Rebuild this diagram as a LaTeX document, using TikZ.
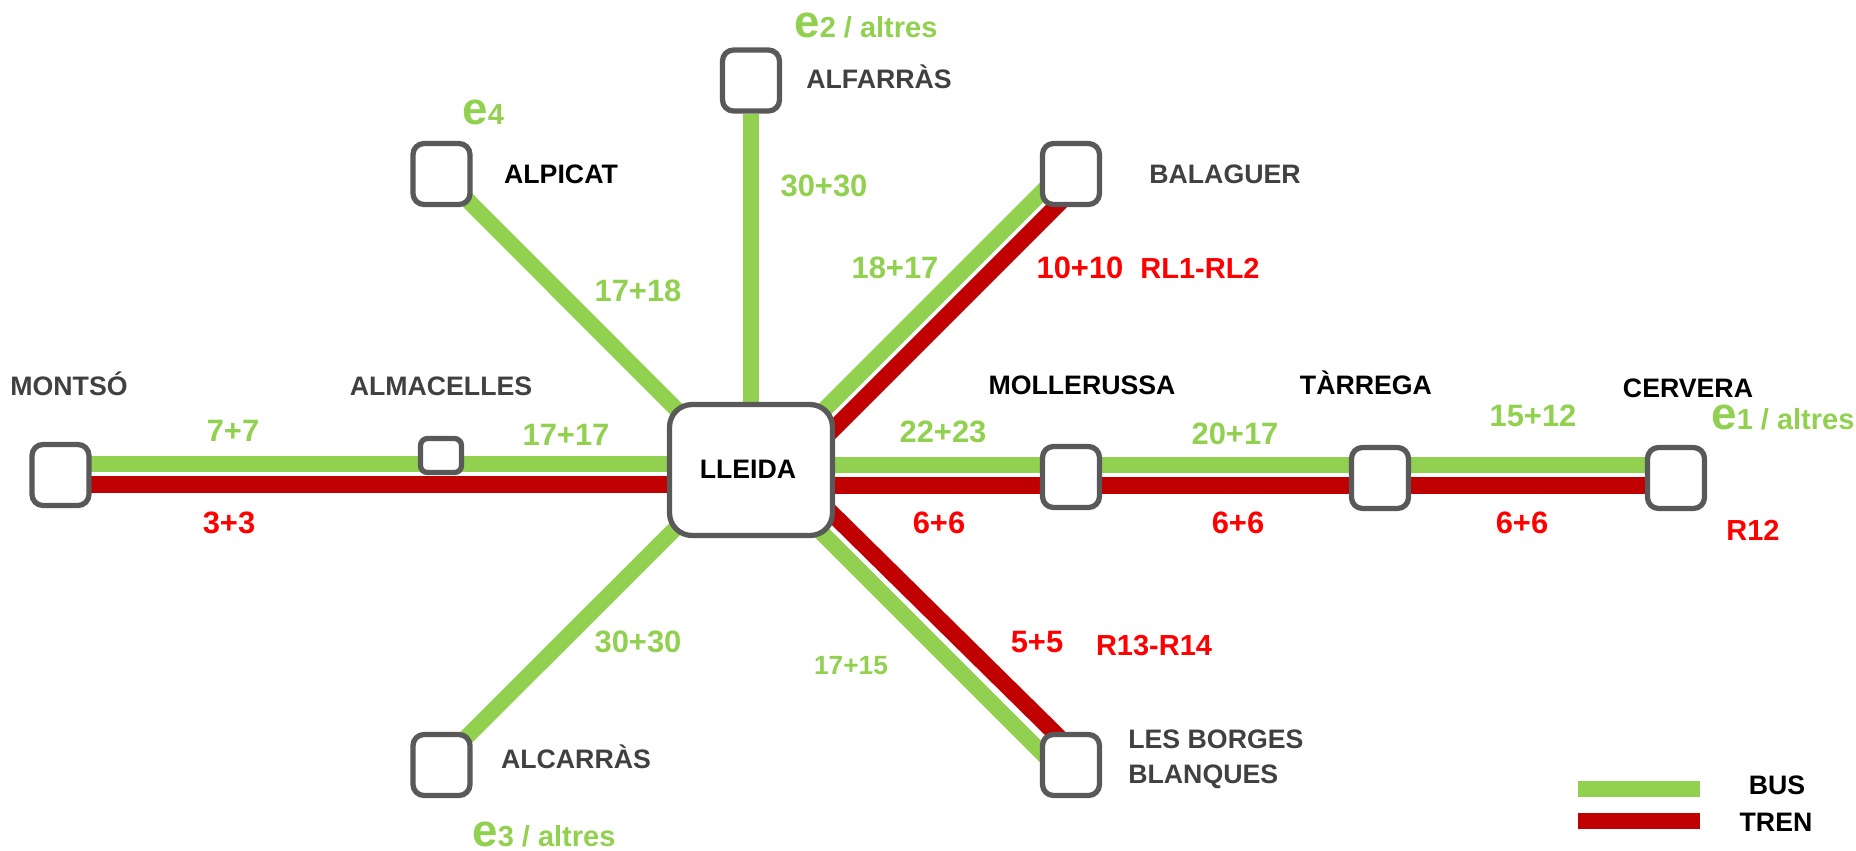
\documentclass[tikz,border=0pt]{standalone}
\usepackage{fontspec}
\setmainfont{Liberation Sans}
\usetikzlibrary{calc,backgrounds}
\definecolor{busgreen}{HTML}{92D050}
\definecolor{trenred}{HTML}{C00000}
\definecolor{labelred}{HTML}{FF0000}
\definecolor{boxgrey}{HTML}{595959}
\definecolor{namegrey}{HTML}{404040}
\tikzset{
	stationbox/.style={draw=boxgrey,fill=white,line width=3pt,rounded corners=2.2mm,minimum width=1.14cm,minimum height=1.22cm,inner sep=0pt},
	busline/.style={draw=busgreen,line width=9.1pt},
	trenline/.style={draw=trenred,line width=9.4pt},
	citylabel/.style={anchor=base,inner sep=0pt,font=\fontsize{15.2}{15.2}\selectfont\bfseries},
	buslabel/.style={anchor=base,inner sep=0pt,text=busgreen,font=\fontsize{17.6}{17.6}\selectfont\bfseries},
	trenlabel/.style={anchor=base,inner sep=0pt,text=labelred,font=\fontsize{17.6}{17.6}\selectfont\bfseries},
	linelabel/.style={anchor=base,inner sep=0pt,text=labelred,font=\fontsize{16.5}{16.5}\selectfont\bfseries},
	extralabel/.style={anchor=base west,inner sep=0pt,text=busgreen,font=\fontsize{16.5}{16.5}\selectfont\bfseries}
}
\def\bige{{\fontsize{26}{26}\selectfont e}}

\begin{document}
\begin{tikzpicture}[x=0.02cm,y=-0.02cm]
			%%%%% START %%%%%
			\useasboundingbox (0, 0) rectangle (1856, 850);
			
			\node[stationbox,minimum width=3.26cm,minimum height=2.62cm,rounded corners=4.5mm] (lleida) at (751, 470) {};
			\node[stationbox] (montso) at (60.5, 475) {};
			\node[stationbox,minimum width=0.82cm,minimum height=0.68cm,rounded corners=1.4mm] (almacelles) at (441, 455.5) {};
			\node[stationbox] (alpicat) at (441.5, 174) {};
			\node[stationbox] (alfarras) at (751, 80.5) {};
			\node[stationbox] (balaguer) at (1071, 174) {};
			\node[stationbox] (mollerussa) at (1071, 477) {};
			\node[stationbox] (tarrega) at (1380, 478) {};
			\node[stationbox] (cervera) at (1676, 478) {};
			\node[stationbox] (alcarras) at (441.5, 765) {};
			\node[stationbox] (borges) at (1071, 765) {};
			
			\begin{pgfonlayer}{background}
				\draw[busline] ($(montso)+(0,-11)$) -- ($(lleida)+(0,-6)$);
				\draw[trenline] ($(montso)+(0,9.5)$) -- ($(lleida)+(0,14.5)$);
				\draw[busline] ($(lleida)+(0,-5)$) -- ($(cervera)+(0,-13)$);
				\draw[trenline] ($(lleida)+(0,15.5)$) -- ($(cervera)+(0,7.5)$);
				\draw[busline] (alfarras) -- (lleida);
				\draw[busline] ($(alpicat)+(0,0)$) -- ($(lleida)+(-14,0)$);
				\draw[busline] ($(balaguer)+(-17,6)$) -- ($(lleida)+(13,0)$);
				\draw[trenline] ($(balaguer)+(1.5,16)$) -- ($(lleida)+(31.5,10)$);
				\draw[busline] ($(alcarras)+(-3,0)$) -- ($(lleida)+(-17,0)$);
				\draw[trenline] ($(borges)+(1,-15)$) -- ($(lleida)+(47,10)$);
				\draw[busline] ($(borges)+(-17,0)$) -- ($(lleida)+(8,0)$);
			\end{pgfonlayer}
			
			\node[citylabel] (lleidaname) at (748, 478) {LLEIDA};
			\node[citylabel,text=namegrey] (montsoname) at (69, 395) {MONTSÓ};
			\node[citylabel,text=namegrey] (almacellesname) at (441, 395) {ALMACELLES};
			\node[citylabel] (alpicatname) at (561, 183) {ALPICAT};
			\node[citylabel,text=namegrey] (alfarrasname) at (879, 88) {ALFARRÀS};
			\node[citylabel,text=namegrey] (balaguername) at (1225, 183) {BALAGUER};
			\node[citylabel] (mollerussaname) at (1082, 394) {MOLLERUSSA};
			\node[citylabel] (tarreganame) at (1366, 394) {TÀRREGA};
			\node[citylabel] (cerveraname) at (1688, 397) {CERVERA};
			\node[citylabel,text=namegrey] (alcarrasname) at (576, 768) {ALCARRÀS};
			\node[citylabel,text=namegrey,anchor=base west] (borgesname) at (1128, 748) {LES BORGES};
			\node[citylabel,text=namegrey,anchor=base west] (blanquesname) at (1128, 783) {BLANQUES};
			
			\node[buslabel] (montsobus) at (233, 441) {7+7};
			\node[trenlabel] (montsotren) at (229, 533) {3+3};
			\node[buslabel] (almacellesbus) at (566, 445) {17+17};
			\node[buslabel] (mollerussabus) at (943, 442) {22+23};
			\node[trenlabel] (mollerussatren) at (939, 533) {6+6};
			\node[buslabel] (tarregabus) at (1235, 444) {20+17};
			\node[trenlabel] (tarregatren) at (1238, 533) {6+6};
			\node[buslabel] (cerverabus) at (1533, 426) {15+12};
			\node[trenlabel] (cerveratren) at (1522, 533) {6+6};
			\node[linelabel] (cerveraline) at (1753, 540) {R12};
			\node[buslabel] (balaguerbus) at (895, 278) {18+17};
			\node[trenlabel] (balaguertren) at (1080, 278) {10+10};
			\node[linelabel] (balaguerline) at (1200, 278) {RL1-RL2};
			\node[buslabel] (alpicatbus) at (638, 301) {17+18};
			\node[buslabel] (alfarrasbus) at (824, 196) {30+30};
			\node[buslabel] (alcarrasbus) at (638, 652) {30+30};
			\node[buslabel,font=\fontsize{15}{15}\selectfont\bfseries] (borgesbus) at (851, 674) {17+15};
			\node[trenlabel] (borgestren) at (1037, 652) {5+5};
			\node[linelabel] (borgesline) at (1154, 655) {R13-R14};
			
			\node[extralabel] (alfarrasextra) at (794, 37) {\bige2 / altres};
			\node[extralabel] (alpicatextra) at (462, 124) {\bige4};
			\node[extralabel] (cerveraextra) at (1711, 429) {\bige1 / altres};
			\node[extralabel] (alcarrasextra) at (472, 846) {\bige3 / altres};
			
			\coordinate (busstart) at (1577.5, 789);
			\coordinate (busend) at (1700, 789);
			\coordinate (trenstart) at (1577.5, 821);
			\coordinate (trenend) at (1700, 821);
			\draw[busline] (busstart) -- (busend);
			\draw[trenline] (trenstart) -- (trenend);
			\node[citylabel] (busname) at (1777, 794) {BUS};
			\node[citylabel] (trenname) at (1776, 831) {TREN};
			%%%%% END %%%%%
		\end{tikzpicture}
\end{document}
